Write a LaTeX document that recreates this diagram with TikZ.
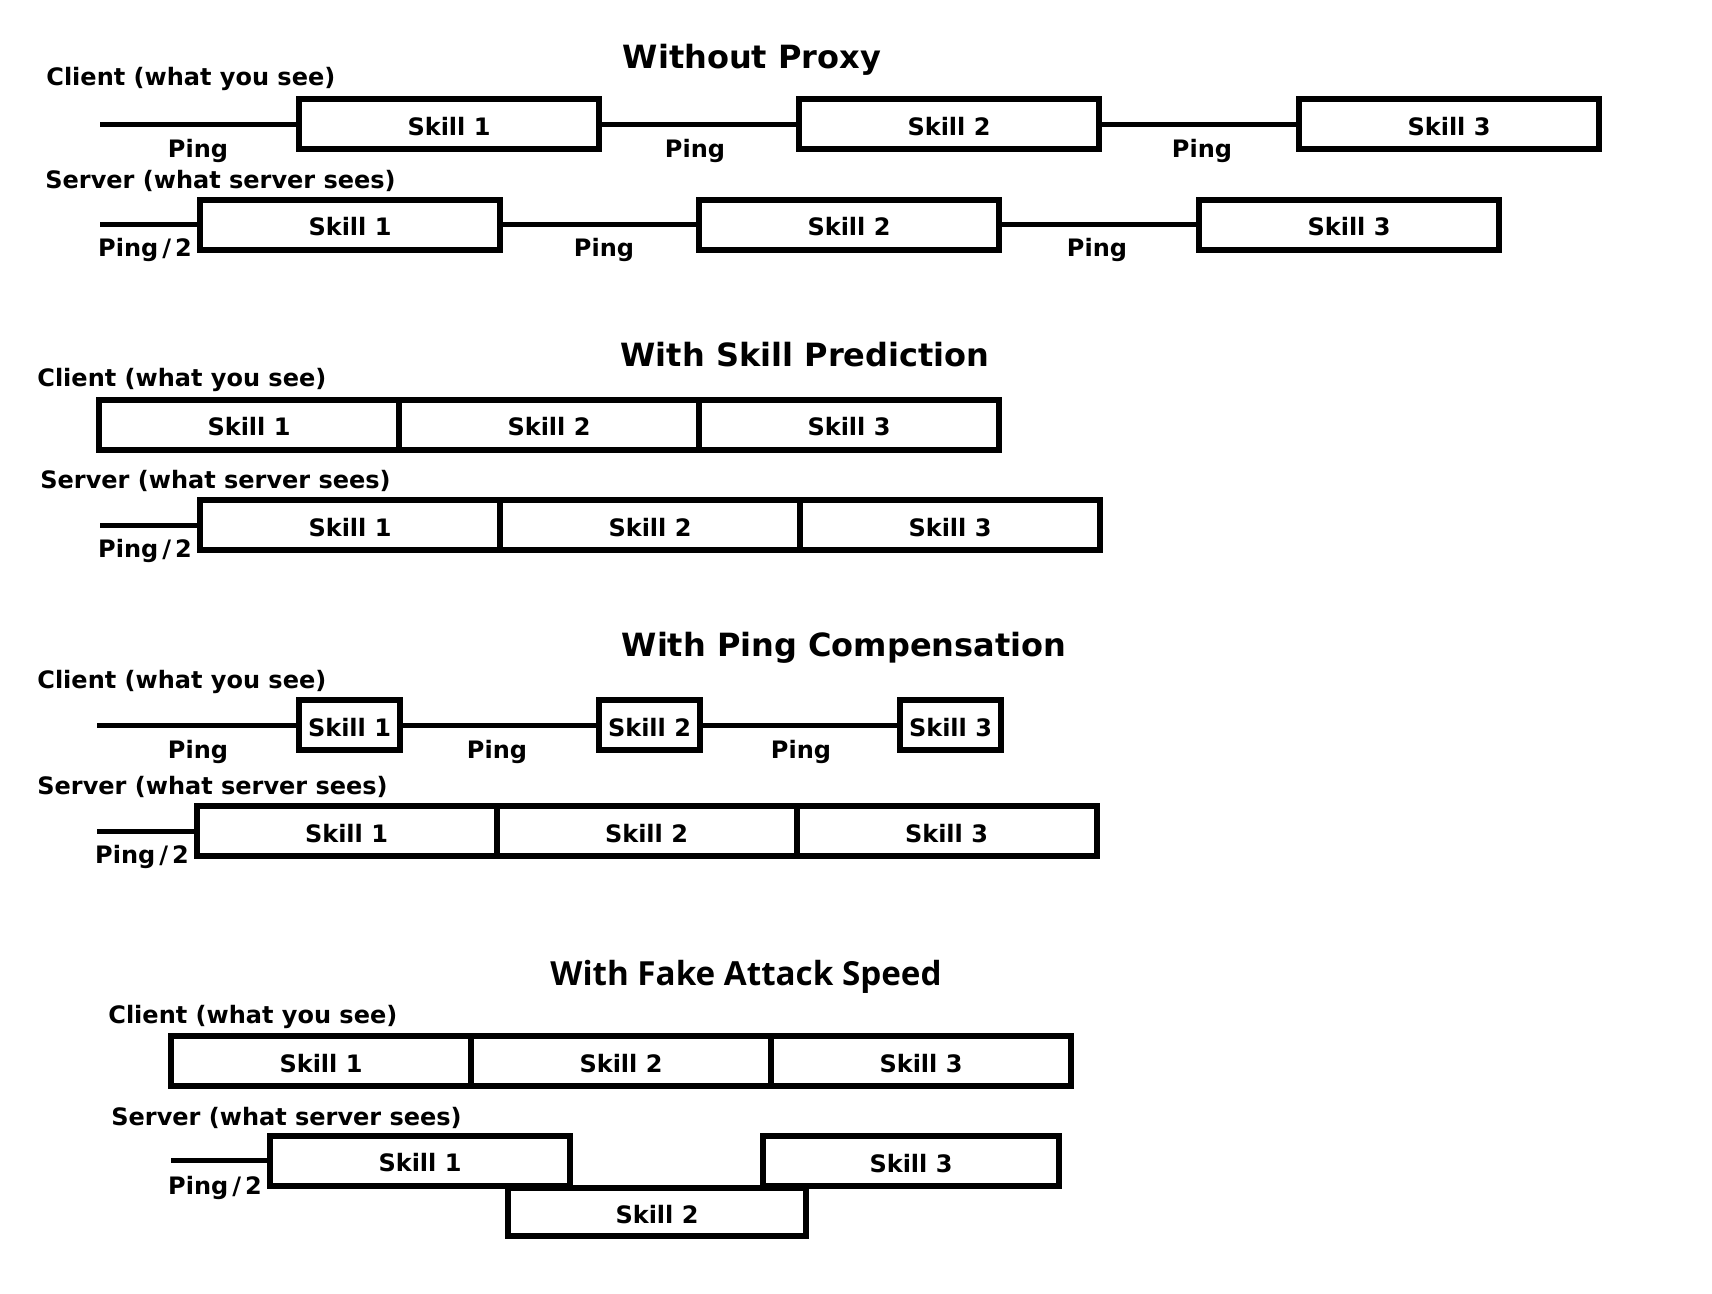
\documentclass[tikz,border=0pt]{standalone}
\usepackage{fontspec}
\setmainfont{DejaVu Sans}
\newfontfamily\titlefont{Open Sans}
\newcommand{\halfping}{Ping\kern2pt/\kern2pt2}
\tikzset{
  skill/.style={draw,line width=3pt,anchor=west,minimum width=150pt,
    minimum height=25pt,inner sep=0pt,outer sep=0pt,text height=11pt,text depth=0pt,
    font=\bfseries\fontsize{12}{14}\selectfont},
  small/.style={skill,minimum width=50.5pt},
  rowlabel/.style={anchor=west,inner sep=0pt,yshift=-1.5pt,font=\bfseries\fontsize{12}{14}\selectfont},
  pinglabel/.style={inner sep=0pt,yshift=-1.2pt,font=\bfseries\fontsize{12}{14}\selectfont},
  heading/.style={inner sep=0pt,yshift=-1.5pt,font=\bfseries\fontsize{16}{18}\selectfont},
  wire/.style={line width=2.5pt}
}
\begin{document}
\begin{tikzpicture}[x=0.5pt,y=-0.5pt]
\useasboundingbox (0,0) rectangle (1712,1294);
% without proxy
\node[heading] (t1) at (752,57) {Without Proxy};
\node[rowlabel] (nclient) at (46,76) {Client (what you see)};
\coordinate (nc0) at (100,124.5);
\node[skill] (nc1) at (299,124.5) {Skill 1};
\node[skill] (nc2) at (799,124.5) {Skill 2};
\node[skill] (nc3) at (1299,124.5) {Skill 3};
\draw[wire] (nc0) -- (nc1.west);
\draw[wire] (nc1.east) -- (nc2.west);
\draw[wire] (nc2.east) -- (nc3.west);
\node[pinglabel] (np1) at (198,148.5) {Ping};
\node[pinglabel] (np2) at (695,148.5) {Ping};
\node[pinglabel] (np3) at (1202,148.5) {Ping};
\node[rowlabel] (nserver) at (45,178) {Server (what server sees)};
\coordinate (ns0) at (100,225);
\node[skill] (ns1) at (200,225) {Skill 1};
\node[skill] (ns2) at (699,225) {Skill 2};
\node[skill] (ns3) at (1199,225) {Skill 3};
\draw[wire] (ns0) -- (ns1.west);
\draw[wire] (ns1.east) -- (ns2.west);
\draw[wire] (ns2.east) -- (ns3.west);
\node[pinglabel] (nq0) at (145,248) {\halfping};
\node[pinglabel] (nq1) at (604,248) {Ping};
\node[pinglabel] (nq2) at (1097,248) {Ping};
% with skill prediction
\node[heading] (t2) at (805,351.5) {With Skill Prediction};
\node[rowlabel] (pclient) at (37,377) {Client (what you see)};
\node[skill] (pc1) at (99,425) {Skill 1};
\node[skill] (pc2) at (pc1.east) {Skill 2};
\node[skill] (pc3) at (pc2.east) {Skill 3};
\node[rowlabel] (pserver) at (40,478) {Server (what server sees)};
\coordinate (ps0) at (100,525);
\node[skill] (ps1) at (200,525) {Skill 1};
\node[skill] (ps2) at (ps1.east) {Skill 2};
\node[skill] (ps3) at (ps2.east) {Skill 3};
\draw[wire] (ps0) -- (ps1.west);
\node[pinglabel] (pq0) at (145,549) {\halfping};
% with ping compensation
\node[heading] (t3) at (844,645) {With Ping Compensation};
\node[rowlabel] (cclient) at (37,679) {Client (what you see)};
\coordinate (cc0) at (97,725);
\node[small] (cc1) at (299,725) {Skill 1};
\node[small] (cc2) at (599,725) {Skill 2};
\node[small] (cc3) at (900,725) {Skill 3};
\draw[wire] (cc0) -- (cc1.west);
\draw[wire] (cc1.east) -- (cc2.west);
\draw[wire] (cc2.east) -- (cc3.west);
\node[pinglabel] (cp1) at (198,750) {Ping};
\node[pinglabel] (cp2) at (497,750) {Ping};
\node[pinglabel] (cp3) at (801,750) {Ping};
\node[rowlabel] (cserver) at (37,784) {Server (what server sees)};
\coordinate (cs0) at (97,831);
\node[skill] (cs1) at (196.5,831) {Skill 1};
\node[skill] (cs2) at (cs1.east) {Skill 2};
\node[skill] (cs3) at (cs2.east) {Skill 3};
\draw[wire] (cs0) -- (cs1.west);
\node[pinglabel] (cq0) at (142,855) {\halfping};
% with fake attack speed
\node[inner sep=0pt,yshift=-1.5pt,font=\titlefont\bfseries\fontsize{16.6}{18}\selectfont] (t4) at (746,974) {With Fake Attack Speed};
\node[rowlabel] (fclient) at (108,1014) {Client (what you see)};
\node[skill] (fc1) at (171,1061) {Skill 1};
\node[skill] (fc2) at (fc1.east) {Skill 2};
\node[skill] (fc3) at (fc2.east) {Skill 3};
\node[rowlabel] (fserver) at (111,1115) {Server (what server sees)};
\coordinate (fs0) at (171,1160.5);
\node[skill] (fs1) at (270,1160.5) {Skill 1};
\node[skill,minimum width=149pt,minimum height=24pt] (fs2) at (508,1212) {Skill 2};
\node[skill,minimum width=148pt] (fs3) at (763,1161) {Skill 3};
\draw[wire] (fs0) -- (fs1.west);
\node[pinglabel] (fq0) at (215,1186) {\halfping};
\end{tikzpicture}
\end{document}
